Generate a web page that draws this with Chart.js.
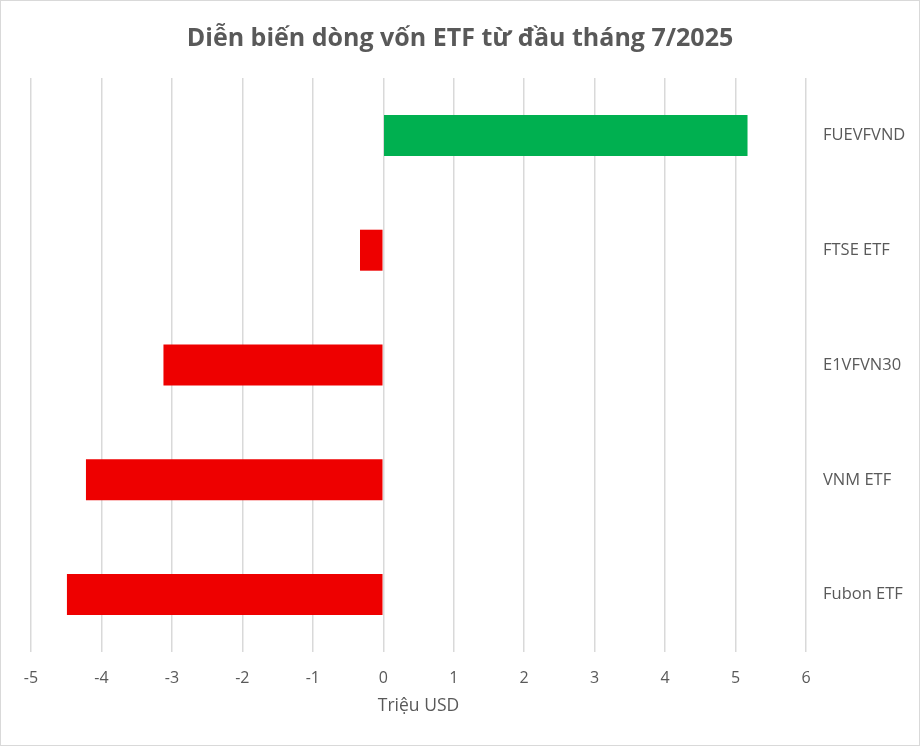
<!DOCTYPE html>
<html><head><meta charset="utf-8">
<script src="https://cdn.jsdelivr.net/npm/chart.js@4/dist/chart.umd.min.js"></script>
<style>
html,body{margin:0;padding:0;background:#fff;}
#wrap{position:relative;width:918px;height:744px;border:1px solid #d9d9d9;}
canvas{display:block;}
</style></head>
<body><div id="wrap"><canvas id="c" width="918" height="744"></canvas></div>
<script>
const categories = ["FUEVFVND", "FTSE ETF", "E1VFVN30", "VNM ETF", "Fubon ETF"];
const flows = [5.17, -0.33, -3.12, -4.22, -4.49];
const xTicks = [-5, -4, -3, -2, -1, 0, 1, 2, 3, 4, 5, 6];
const titleText = "Diễn biến dòng vốn ETF từ đầu tháng 7/2025";
const axisTitle = "Triệu USD";

const fontFam = "'Open Sans', 'Noto Sans', sans-serif";
new Chart(document.getElementById('c'), {
  type: 'bar',
  data: {
    labels: categories,
    datasets: [{
      data: flows,
      backgroundColor: ctx => (ctx.raw >= 0 ? '#00B050' : '#EE0000'),
      borderWidth: 0,
      categoryPercentage: 1,
      barPercentage: 0.357
    }]
  },
  options: {
    indexAxis: 'y',
    responsive: false,
    animation: false,
    layout: { padding: { left: 0, right: 0, top: 0, bottom: 28 } },
    plugins: {
      legend: { display: false },
      tooltip: { enabled: false },
      title: {
        display: true, text: titleText, color: '#595959',
        font: { family: fontFam, size: 25, weight: 'bold' },
        padding: { top: 23, bottom: 24 }
      }
    },
    scales: {
      x: {
        min: -5, max: 6,
        afterBuildTicks: s => { s.ticks = xTicks.map(v => ({ value: v })); },
        grid: { color: '#D9D9D9', lineWidth: 1.5, drawTicks: false },
        border: { display: false },
        ticks: { color: '#595959', padding: 17, font: { family: fontFam, size: 16 } },
        title: { display: true, text: axisTitle, color: '#595959', font: { family: fontFam, size: 17.5 }, padding: { top: 3, bottom: 0 } },
        afterFit: s => { s.height = 65; }
      },
      y: {
        position: 'right',
        grid: { display: false },
        border: { display: false },
        ticks: { color: '#595959', crossAlign: 'near', padding: 9, font: { family: fontFam, size: 16.5 } },
        afterFit: s => { s.width = 113; }
      },
      yLeft: {
        type: 'category',
        position: 'left',
        grid: { display: false },
        border: { display: false },
        ticks: { display: false },
        afterFit: s => { s.width = 30; }
      }
    }
  }
});
</script></body></html>
